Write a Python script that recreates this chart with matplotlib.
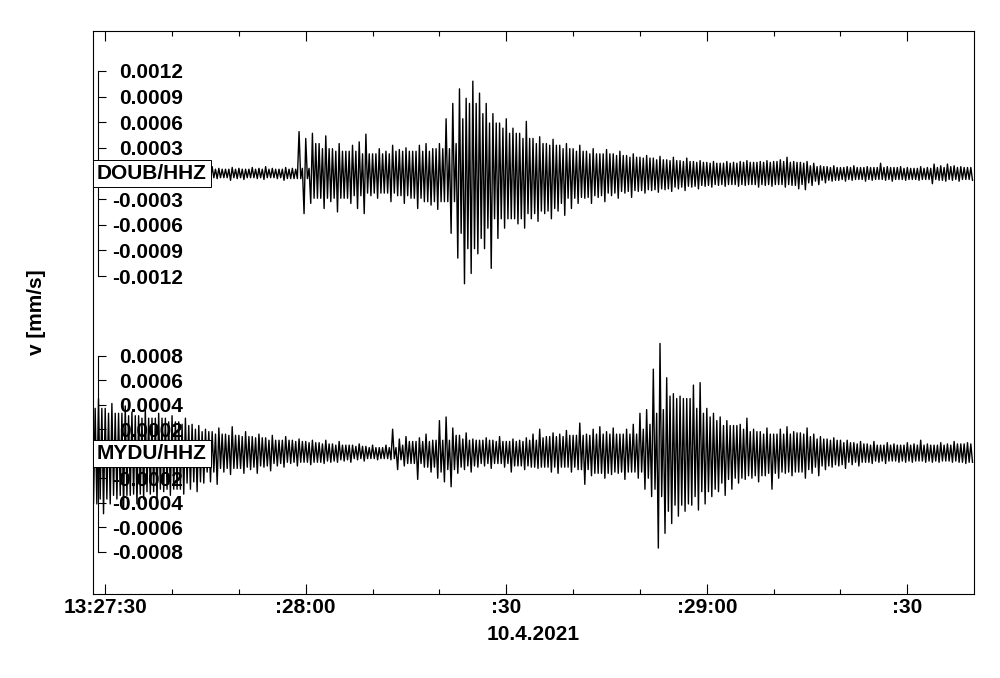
import numpy as np
import pandas as pd
import matplotlib.pyplot as plt
import matplotlib.transforms as mtransforms
from matplotlib.ticker import FixedLocator, FixedFormatter, MultipleLocator

plt.rcParams["font.family"] = ["Liberation Sans", "DejaVu Sans"]
plt.rcParams["font.weight"] = "bold"
plt.rcParams["font.size"] = 15

# time axis: seconds after 13:27:30 (10.4.2021)
x_ticks = [0, 30, 60, 90, 120]
x_ticklabels = ["13:27:30", ":28:00", ":30", ":29:00", ":30"]
date_label = "10.4.2021"

# per-second positive / negative peaks, in 1e-4 mm/s
# first sample at t = -2 s
doub_hi = [0.6, 0.5, 0.7, 0.6, 0.5, 0.7, 0.6, 0.8, 0.5, 0.6,
           0.7, 0.5, 0.6, 0.7, 0.6, 0.5, 0.7, 0.6, 0.8, 0.6,
           0.5, 0.7, 0.6, 0.5, 0.7, 0.6, 0.8, 0.6, 0.5, 0.7,
           0.6, 4.9, 4.1, 4.7, 3.5, 4.4, 2.9, 3.5, 2.6, 3.3,
           3.7, 4.6, 2.3, 2.9, 2.6, 3.3, 2.8, 3.0, 2.6, 3.3,
           3.5, 2.9, 3.5, 6.4, 8.2, 9.9, 8.8, 10.8, 9.4, 8.2,
           7.0, 5.9, 6.4, 5.3, 4.7, 6.1, 4.1, 4.3, 3.5, 4.0,
           3.3, 3.5, 2.9, 3.3, 2.6, 2.9, 2.3, 2.8, 2.3, 2.6,
           2.1, 2.3, 1.9, 2.1, 1.8, 2.0, 1.6, 1.9, 1.5, 1.8,
           1.4, 1.5, 1.3, 1.4, 1.2, 1.4, 1.3, 1.4, 1.5, 1.3,
           1.4, 1.5, 1.4, 1.6, 1.9, 1.4, 1.3, 1.4, 1.2, 0.9,
           0.8, 0.9, 0.7, 0.8, 0.9, 0.7, 0.8, 0.7, 1.2, 0.8,
           0.7, 0.8, 0.7, 0.6, 0.8, 0.7, 1.1, 0.9, 1.1, 0.9,
           0.8, 0.7]
doub_lo = [0.6, 0.7, 0.5, 0.6, 0.8, 0.5, 0.7, 0.6, 0.5, 0.7,
           0.6, 0.8, 0.5, 0.6, 0.7, 0.6, 0.5, 0.7, 0.6, 0.5,
           0.8, 0.6, 0.7, 0.5, 0.6, 0.7, 0.5, 0.6, 0.8, 0.6,
           0.6, 4.7, 3.5, 2.9, 4.1, 3.3, 4.5, 2.9, 3.5, 4.1,
           4.7, 2.6, 2.9, 2.3, 3.3, 2.6, 3.5, 2.9, 4.1, 3.3,
           3.7, 4.2, 3.3, 7.0, 9.9, 12.9, 11.7, 9.4, 8.8, 11.1,
           7.6, 6.4, 5.3, 5.9, 6.4, 5.3, 5.6, 4.7, 5.3, 4.4,
           4.9, 4.1, 3.5, 2.9, 3.5, 2.8, 3.3, 2.6, 2.9, 2.3,
           2.8, 2.1, 2.3, 2.0, 2.2, 1.9, 2.1, 1.8, 2.0, 1.6,
           1.8, 1.5, 1.6, 1.4, 1.5, 1.3, 1.5, 1.4, 1.3, 1.6,
           1.4, 1.5, 1.3, 1.6, 1.4, 1.8, 1.9, 1.4, 1.3, 1.1,
           0.9, 0.8, 0.9, 0.8, 0.7, 0.9, 0.8, 0.7, 0.8, 0.9,
           0.7, 0.8, 0.7, 0.8, 0.7, 1.2, 0.8, 0.9, 0.8, 0.9,
           0.7, 0.8]

mydu_hi = [5.3, 4.5, 3.7, 4.1, 3.3, 3.9, 3.4, 3.1, 3.7, 2.9,
           3.3, 2.9, 3.1, 2.6, 2.9, 2.4, 2.3, 2.0, 1.8, 2.1,
           1.6, 2.2, 1.5, 1.8, 1.4, 1.6, 1.3, 1.5, 1.1, 1.4,
           1.1, 1.2, 1.0, 1.1, 0.9, 1.1, 0.8, 1.0, 0.7, 0.7,
           0.8, 0.6, 0.7, 0.5, 0.7, 2.0, 1.2, 1.4, 1.0, 1.3,
           1.6, 1.1, 2.7, 3.0, 2.1, 1.5, 1.7, 1.2, 1.1, 1.3,
           1.1, 1.4, 1.0, 1.2, 1.1, 1.3, 1.6, 2.0, 1.4, 1.7,
           1.6, 1.9, 1.5, 2.5, 1.6, 2.0, 2.2, 1.8, 2.1, 1.6,
           2.0, 2.4, 3.3, 3.6, 6.9, 9.0, 6.2, 4.9, 4.7, 4.5,
           5.6, 5.8, 3.7, 3.3, 3.0, 2.7, 2.3, 2.4, 2.9, 2.0,
           1.8, 2.1, 1.6, 2.0, 2.2, 1.8, 1.7, 2.1, 1.6, 1.4,
           1.2, 1.3, 1.1, 1.1, 0.9, 1.0, 0.8, 1.0, 0.7, 0.9,
           0.8, 0.7, 0.9, 0.8, 1.1, 0.8, 0.7, 0.9, 0.8, 1.0,
           0.8, 0.9]
mydu_lo = [4.1, 4.9, 4.1, 3.7, 4.5, 3.4, 4.1, 3.7, 3.3, 3.9,
           3.1, 3.4, 2.9, 3.3, 2.9, 3.1, 2.4, 2.3, 2.5, 1.5,
           1.7, 1.2, 1.6, 1.3, 1.6, 1.1, 1.4, 1.0, 1.1, 0.8,
           1.0, 0.7, 0.9, 0.7, 0.8, 0.7, 0.7, 0.6, 0.7, 0.5,
           0.6, 0.4, 0.5, 0.4, 0.5, 1.3, 1.0, 0.8, 2.1, 1.1,
           1.5, 2.0, 2.3, 2.7, 1.6, 1.3, 1.5, 1.1, 1.0, 1.2,
           0.8, 1.1, 1.5, 1.0, 1.3, 1.1, 1.2, 1.1, 1.5, 1.6,
           1.1, 1.5, 1.3, 2.5, 1.8, 1.6, 2.0, 1.7, 1.6, 2.1,
           1.5, 2.0, 2.9, 3.5, 7.7, 6.5, 5.7, 5.1, 4.7, 4.2,
           4.6, 4.1, 3.5, 3.1, 3.4, 2.9, 2.4, 2.1, 2.0, 2.3,
           1.8, 2.9, 2.0, 1.6, 1.8, 1.5, 2.0, 1.6, 1.8, 1.3,
           1.1, 1.0, 1.2, 0.9, 1.0, 0.7, 0.8, 0.7, 0.8, 0.6,
           0.7, 0.7, 0.7, 0.6, 0.7, 0.7, 0.7, 0.6, 0.7, 0.7,
           0.8, 0.7]

doub_ticks = [0.0012, 0.0009, 0.0006, 0.0003, 0.0, -0.0003, -0.0006, -0.0009, -0.0012]
mydu_ticks = [0.0008, 0.0006, 0.0004, 0.0002, 0.0, -0.0002, -0.0004, -0.0006, -0.0008]

traces = [
    ("DOUB/HHZ", doub_hi, doub_lo, doub_ticks, (-0.00492, 0.001667)),
    ("MYDU/HHZ", mydu_hi, mydu_lo, mydu_ticks, (-0.001145, 0.00345)),
]

fig = plt.figure(figsize=(10, 6.78), dpi=100)
rect = [0.0925, 0.1239, 0.881, 0.8304]
ax = fig.add_axes(rect)
ax.set_xlim(-1.9, 129.9)
ax.set_yticks([])
ax.xaxis.set_major_locator(FixedLocator(x_ticks))
ax.xaxis.set_major_formatter(FixedFormatter(x_ticklabels))
ax.xaxis.set_minor_locator(MultipleLocator(10))
ax.tick_params(axis="x", which="both", direction="in", top=True, width=0.8, pad=3)
ax.tick_params(axis="x", which="major", length=7)
ax.tick_params(axis="x", which="minor", length=3.5)
ax.set_xlabel(date_label, fontweight="bold", labelpad=6)
for s in ax.spines.values():
    s.set_linewidth(0.8)
fig.text(0.036, 0.539, "v [mm/s]", rotation=90, ha="center", va="center",
         fontweight="bold")

for name, hi, lo, ticks, ylim in traces:
    tax = fig.add_axes(rect, sharex=ax)
    tax.patch.set_visible(False)
    tax.set_ylim(*ylim)
    tax.xaxis.set_visible(False)
    for side in ["top", "right", "bottom"]:
        tax.spines[side].set_visible(False)
    tax.spines["left"].set_position(("axes", 0.0057))
    tax.spines["left"].set_bounds(min(ticks), max(ticks))
    tax.spines["left"].set_linewidth(0.8)
    tax.yaxis.set_major_locator(FixedLocator(ticks))
    # the zero label sits under the station box
    tax.yaxis.set_major_formatter(FixedFormatter(
        ["" if v == 0 else f"{v:.4f}" for v in ticks]))
    tax.tick_params(axis="y", direction="in", length=6, width=0.8, pad=-61.5)

    hi = np.asarray(hi)
    lo = np.asarray(lo)
    t = -2 + np.arange(len(hi))

    # smaller swings in between: smallest neighbouring peaks
    core_hi = pd.Series(hi).rolling(5, center=True, min_periods=1).min().values
    core_lo = pd.Series(lo).rolling(5, center=True, min_periods=1).min().values

    # four swings per second: peak up, core down, core up, peak down
    x = np.column_stack([t, t + 0.25, t + 0.5, t + 0.75]).ravel()
    y = np.column_stack([hi, -core_lo, core_hi, -lo]).ravel() * 1e-4
    tax.plot(x, y, color="black", lw=1.0, zorder=3)

    trans = mtransforms.blended_transform_factory(tax.transAxes, tax.transData)
    tax.text(0.0048, 0.0, name, transform=trans, ha="left", va="center",
             fontweight="bold", zorder=6,
             bbox=dict(boxstyle="square,pad=0.2", fc="white", ec="black", lw=0.7))

fig.savefig("out.png", dpi=100)
